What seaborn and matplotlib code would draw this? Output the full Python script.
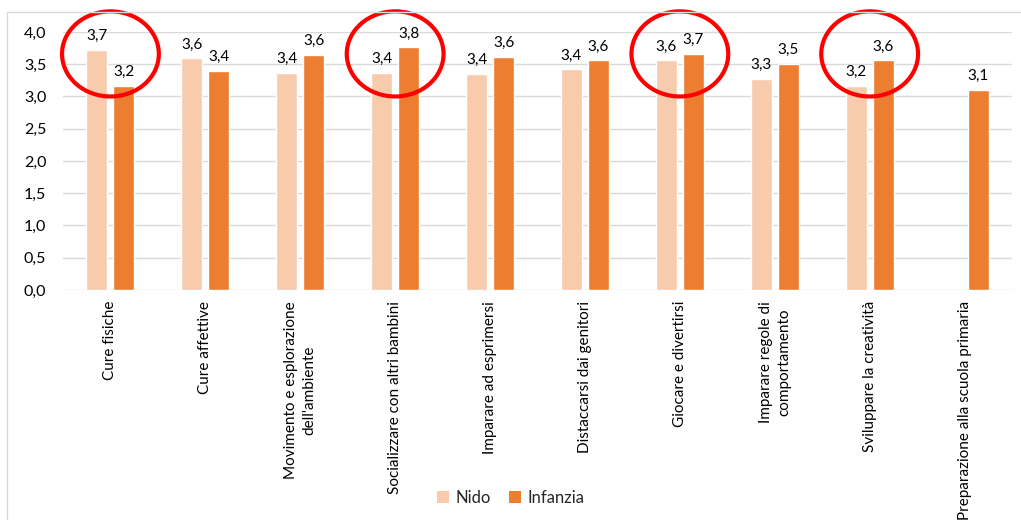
import matplotlib
matplotlib.use("Agg")
import matplotlib.pyplot as plt
from matplotlib.patches import Ellipse, Rectangle, Patch
import numpy as np
import pandas as pd
import seaborn as sns

categories = [
    "Cure fisiche",
    "Cure affettive",
    "Movimento e esplorazione\ndell'ambiente",
    "Socializzare con altri bambini",
    "Imparare ad esprimersi",
    "Distaccarsi dai genitori",
    "Giocare e divertirsi",
    "Imparare regole di\ncomportamento",
    "Sviluppare la creatività",
    "Preparazione alla scuola primaria",
]
series = ["Nido", "Infanzia"]
nido = [3.72, 3.59, 3.37, 3.37, 3.35, 3.42, 3.56, 3.27, 3.16, np.nan]
infanzia = [3.17, 3.39, 3.64, 3.76, 3.61, 3.56, 3.66, 3.51, 3.56, 3.10]
highlighted = [0, 3, 6, 8]
yticks = [0.0, 0.5, 1.0, 1.5, 2.0, 2.5, 3.0, 3.5, 4.0]
ytick_labels = ["0,0", "0,5", "1,0", "1,5", "2,0", "2,5", "3,0", "3,5", "4,0"]

colors = {"Nido": "#F8CBAD", "Infanzia": "#ED7D31"}

df = pd.DataFrame({
    "categoria": categories * 2,
    "serie": ["Nido"] * len(categories) + ["Infanzia"] * len(categories),
    "valore": nido + infanzia,
})

sns.set_theme(style="white")
plt.rcParams["font.family"] = ["Lato", "DejaVu Sans"]

fig = plt.figure(figsize=(10.21, 5.20), dpi=100)
ax = fig.add_axes([0.0617, 0.4423, 0.9295, 0.4962])

sns.barplot(data=df, x="categoria", y="valore", hue="serie",
            order=categories, hue_order=series, palette=colors,
            saturation=1, width=0.57, gap=0.225, errorbar=None,
            legend=False, ax=ax)

ax.set_ylim(0, 4.0)
ax.set_xlim(-0.5, len(categories) - 0.5)
ax.set_yticks(yticks)
ax.set_yticklabels(ytick_labels)
ax.yaxis.grid(True, color="#d9d9d9", linewidth=1.0)
ax.set_axisbelow(True)
for s in ax.spines.values():
    s.set_visible(False)
ax.tick_params(axis="y", length=0, pad=12, labelsize=11.5, labelcolor="#000000")
ax.tick_params(axis="x", length=0, pad=8)
ax.set_xticks(range(len(categories)))
ax.set_xticklabels(categories, rotation=90, ha="center", va="top",
                   multialignment="center", linespacing=1.4,
                   fontsize=11, color="#000000")
ax.set_xlabel("")
ax.set_ylabel("")

for cont in ax.containers:
    ax.bar_label(cont, fmt=lambda v: f"{v:.1f}".replace(".", ","),
                 padding=5, fontsize=11, color="#000000")

for i in highlighted:
    ax.add_patch(Ellipse((i, 3.66), width=1.02, height=1.32,
                         transform=ax.transData, fill=False,
                         edgecolor="#FF0000", linewidth=3, clip_on=False,
                         zorder=5))

handles = [Patch(facecolor=colors[s], edgecolor="none", label=s) for s in series]
fig.legend(handles=handles, loc="center", bbox_to_anchor=(0.5, 0.042),
           ncol=2, frameon=False, fontsize=12, handlelength=0.75,
           handleheight=0.75, handletextpad=0.35, columnspacing=1.1)

fig.patches.append(Rectangle((7 / 1021, -0.1), 1.2, 1 - 12 / 520 + 0.1,
                             transform=fig.transFigure, fill=False,
                             edgecolor="#d9d9d9", linewidth=1.0))

fig.savefig("out.png", dpi=100, facecolor="white")
